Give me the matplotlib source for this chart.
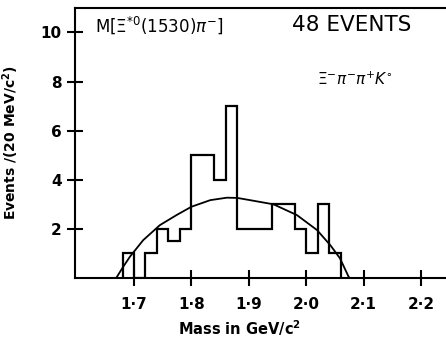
import matplotlib
matplotlib.use('Agg')
import matplotlib.pyplot as plt

# histogram: 20 MeV bins, counts
bin_edges = [1.68, 1.70, 1.72, 1.74, 1.76, 1.78, 1.80, 1.82, 1.84, 1.86, 1.88,
             1.90, 1.92, 1.94, 1.96, 1.98, 2.00, 2.02, 2.04, 2.06]
counts = [1, 0, 1, 2, 1.5, 2, 5, 5, 4, 7, 2, 2, 2, 3, 3, 2, 1, 3, 1]

# phase space curve
curve_mass = [1.669, 1.681, 1.693, 1.716, 1.745, 1.774, 1.800, 1.833, 1.862,
              1.880, 1.902, 1.943, 1.984, 2.019, 2.042, 2.059, 2.074, 2.076]
curve_val = [0.0, 0.45, 0.87, 1.54, 2.15, 2.56, 2.90, 3.17, 3.27,
             3.26, 3.17, 3.00, 2.56, 1.95, 1.34, 0.80, 0.05, 0.0]

xticks = [1.7, 1.8, 1.9, 2.0, 2.1, 2.2]
xtick_labels = ['1·7', '1·8', '1·9', '2·0', '2·1', '2·2']
yticks = [2, 4, 6, 8, 10]

fig = plt.figure(figsize=(4.46, 3.44), dpi=100)
ax = fig.add_axes([0.168, 0.192, 0.84, 0.785])

ax.stairs(counts, bin_edges, color='black', linewidth=1.6, baseline=0)
ax.plot(curve_mass, curve_val, color='black', linewidth=1.3)

ax.set_xlim(1.597, 2.25)
ax.set_ylim(0, 11)
ax.set_xticks(xticks)
ax.set_xticklabels(xtick_labels, fontweight='bold', fontsize=11)
ax.set_yticks(yticks)
ax.set_yticklabels([str(v) for v in yticks], fontweight='bold', fontsize=11)
ax.tick_params(direction='inout', length=11, width=1.5, pad=4)
ax.tick_params(axis='x', pad=8)

for s in ['left', 'bottom', 'top']:
    ax.spines[s].set_linewidth(1.5)
ax.spines['right'].set_visible(False)

ax.set_xlabel('Mass in GeV/c$^{\\mathbf{2}}$', fontweight='bold', fontsize=10.5)
ax.xaxis.set_label_coords(0.44, -0.15)
ax.set_ylabel('Events /(20 MeV/c$^{\\mathbf{2}}$)', fontweight='bold', fontsize=10)
ax.yaxis.set_label_coords(-0.145, 0.5)

ax.text(1.632, 10.3, r'M$[\Xi^{*0}$(1530)$\pi^{-}]$', fontsize=12, va='center')
ax.text(1.976, 10.3, '48 EVENTS', fontsize=15.5, va='center')
ax.text(2.019, 8.1, r'$\Xi^{-}\pi^{-}\pi^{+}K^{\circ}$', fontsize=11,
        va='center')

plt.savefig('out.png', dpi=100)
plt.close()
